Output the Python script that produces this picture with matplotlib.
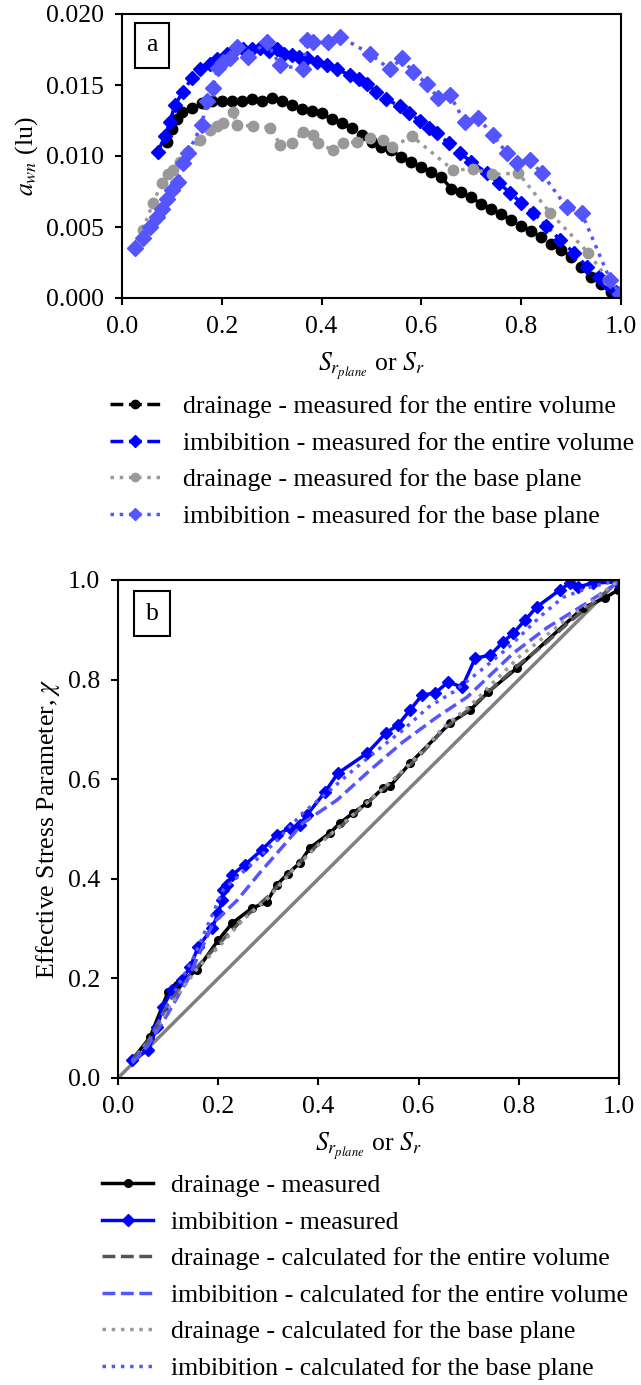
import matplotlib
matplotlib.use("Agg")
import matplotlib.pyplot as plt

plt.rcParams['font.family'] = 'serif'
plt.rcParams['font.serif'] = ['Liberation Serif', 'STIXGeneral', 'DejaVu Serif']
plt.rcParams['mathtext.fontset'] = 'stix'
plt.rcParams['font.size'] = 18.5

BLUE = '#0000ff'
LBLUE = '#5555ff'
GRAY = '#999999'
DGRAY = '#555555'

# (a) interfacial area a_wn vs saturation
dr_vol_s = [0.09, 0.10, 0.11, 0.12, 0.14, 0.16, 0.18, 0.20, 0.22, 0.24, 0.26, 0.28, 0.30,
            0.32, 0.34, 0.36, 0.38, 0.40, 0.42, 0.44, 0.46, 0.48, 0.50, 0.52, 0.54, 0.56,
            0.58, 0.60, 0.62, 0.64, 0.66, 0.68, 0.70, 0.72, 0.74, 0.76, 0.78, 0.80, 0.82,
            0.84, 0.86, 0.88, 0.90, 0.92, 0.94, 0.96, 0.98, 1.00]
dr_vol_a = [0.0110, 0.0119, 0.0126, 0.0131, 0.0134, 0.0137, 0.0139, 0.0139, 0.0139, 0.0139,
            0.0140, 0.0139, 0.0141, 0.0139, 0.0136, 0.0133, 0.0132, 0.0130, 0.0126, 0.0123,
            0.0120, 0.0115, 0.0110, 0.0106, 0.0104, 0.0099, 0.0096, 0.0092, 0.0089, 0.0085,
            0.0077, 0.0075, 0.0071, 0.0066, 0.0063, 0.0059, 0.0055, 0.0051, 0.0047, 0.0043,
            0.0038, 0.0034, 0.0029, 0.0022, 0.0015, 0.0010, 0.0004, 0.0000]

im_vol_s = [0.072, 0.086, 0.096, 0.106, 0.122, 0.14, 0.156, 0.176, 0.19, 0.21, 0.225, 0.243,
            0.26, 0.277, 0.295, 0.31, 0.325, 0.34, 0.355, 0.371, 0.39, 0.41, 0.43, 0.457,
            0.475, 0.49, 0.51, 0.53, 0.557, 0.575, 0.597, 0.615, 0.631, 0.655, 0.677, 0.70,
            0.731, 0.755, 0.778, 0.80, 0.824, 0.85, 0.878, 0.905, 0.932, 0.955, 0.972, 0.99, 1.00]
im_vol_a = [0.0103, 0.0114, 0.0124, 0.0136, 0.0145, 0.0155, 0.0161, 0.0165, 0.0168, 0.0172,
            0.0174, 0.0175, 0.0175, 0.0176, 0.0174, 0.0175, 0.0172, 0.0171, 0.0170, 0.0169,
            0.0166, 0.0164, 0.0161, 0.0157, 0.0154, 0.0151, 0.0145, 0.0140, 0.0135, 0.0130,
            0.0125, 0.0120, 0.0116, 0.0109, 0.0102, 0.0096, 0.0088, 0.0081, 0.0074, 0.0067,
            0.0060, 0.0051, 0.0041, 0.0032, 0.0022, 0.0015, 0.0010, 0.0004, 0.0002]

dr_pl_s = [0.042, 0.062, 0.08, 0.092, 0.102, 0.116, 0.132, 0.156, 0.176, 0.19, 0.203, 0.223,
           0.23, 0.263, 0.297, 0.317, 0.34, 0.363, 0.383, 0.393, 0.423, 0.443, 0.471, 0.497,
           0.523, 0.541, 0.581, 0.664, 0.704, 0.741, 0.794, 0.858, 0.934, 0.974, 1.0]
dr_pl_a = [0.0048, 0.0067, 0.0081, 0.0087, 0.0090, 0.0096, 0.0103, 0.0111, 0.0118, 0.0121,
           0.0123, 0.0131, 0.0122, 0.0121, 0.0120, 0.0108, 0.0109, 0.0117, 0.0115, 0.0109,
           0.0104, 0.0109, 0.0110, 0.0113, 0.0111, 0.0106, 0.0114, 0.0090, 0.0091, 0.0087,
           0.0088, 0.0060, 0.0032, 0.0013, 0.0003]

im_pl_s = [0.026, 0.042, 0.056, 0.07, 0.08, 0.09, 0.10, 0.112, 0.122, 0.132, 0.16, 0.17,
           0.182, 0.192, 0.202, 0.216, 0.23, 0.252, 0.29, 0.317, 0.363, 0.37, 0.383, 0.413,
           0.437, 0.497, 0.537, 0.561, 0.583, 0.611, 0.633, 0.657, 0.687, 0.713, 0.743,
           0.771, 0.791, 0.817, 0.841, 0.891, 0.921, 0.978, 0.998]
im_pl_a = [0.0035, 0.0042, 0.0050, 0.0057, 0.0063, 0.0070, 0.0076, 0.0082, 0.0095, 0.0102,
           0.0122, 0.0139, 0.0148, 0.0162, 0.0166, 0.0169, 0.0177, 0.0170, 0.0180, 0.0164,
           0.0161, 0.0182, 0.0180, 0.0180, 0.0184, 0.0172, 0.0161, 0.0169, 0.0159, 0.0151,
           0.0141, 0.0143, 0.0124, 0.0127, 0.0115, 0.0102, 0.0095, 0.0097, 0.0088, 0.0064,
           0.0060, 0.0013, 0.0003]

# (b) effective stress parameter chi vs saturation
dr_meas_s = [0.028, 0.064, 0.10, 0.118, 0.158, 0.20, 0.228, 0.267, 0.297, 0.317, 0.339, 0.363,
             0.383, 0.423, 0.443, 0.469, 0.497, 0.529, 0.543, 0.583, 0.663, 0.703, 0.739,
             0.796, 0.928, 0.972, 0.998]
dr_meas_chi = [0.036, 0.082, 0.173, 0.187, 0.217, 0.277, 0.311, 0.341, 0.353, 0.388, 0.410,
               0.432, 0.462, 0.492, 0.512, 0.532, 0.552, 0.582, 0.586, 0.632, 0.713, 0.739,
               0.775, 0.823, 0.944, 0.964, 0.980]

im_meas_s = [0.028, 0.06, 0.078, 0.09, 0.108, 0.128, 0.144, 0.16, 0.188, 0.20, 0.208, 0.21,
             0.218, 0.228, 0.253, 0.287, 0.317, 0.343, 0.363, 0.377, 0.413, 0.439, 0.497,
             0.535, 0.559, 0.583, 0.607, 0.633, 0.659, 0.687, 0.713, 0.743, 0.769, 0.789,
             0.813, 0.836, 0.882, 0.902, 0.918, 0.948, 0.996]
im_meas_chi = [0.036, 0.056, 0.102, 0.143, 0.177, 0.197, 0.223, 0.263, 0.301, 0.331, 0.357,
               0.378, 0.388, 0.408, 0.428, 0.458, 0.488, 0.502, 0.508, 0.528, 0.574, 0.612,
               0.652, 0.693, 0.709, 0.739, 0.769, 0.773, 0.795, 0.785, 0.843, 0.849, 0.876,
               0.893, 0.920, 0.946, 0.980, 0.994, 0.986, 0.994, 0.996]

dr_calc_s = [0.028, 0.064, 0.10, 0.16, 0.20, 0.25, 0.30, 0.35, 0.40, 0.45, 0.50, 0.55, 0.60,
             0.65, 0.70, 0.75, 0.80, 0.85, 0.90, 0.95, 1.0]
dr_calc_vol = [0.035, 0.080, 0.150, 0.225, 0.268, 0.320, 0.365, 0.420, 0.470, 0.510, 0.555,
               0.598, 0.645, 0.700, 0.740, 0.785, 0.830, 0.870, 0.915, 0.955, 1.0]
dr_calc_pl = [0.033, 0.078, 0.140, 0.222, 0.262, 0.318, 0.362, 0.418, 0.468, 0.512, 0.556,
              0.600, 0.648, 0.705, 0.745, 0.795, 0.845, 0.885, 0.925, 0.960, 1.0]

im_cvol_s = [0.028, 0.06, 0.10, 0.14, 0.19, 0.238, 0.283, 0.323, 0.369, 0.437, 0.503, 0.569,
             0.637, 0.697, 0.789, 0.856, 0.936, 0.996]
im_cvol_chi = [0.030, 0.065, 0.130, 0.200, 0.311, 0.357, 0.412, 0.458, 0.512, 0.558, 0.618,
               0.675, 0.725, 0.765, 0.853, 0.904, 0.954, 0.994]

im_cpl_s = [0.028, 0.06, 0.10, 0.15, 0.21, 0.261, 0.31, 0.369, 0.42, 0.469, 0.52, 0.569,
            0.62, 0.669, 0.72, 0.78, 0.842, 0.888, 0.94, 1.0]
im_cpl_chi = [0.033, 0.070, 0.150, 0.240, 0.378, 0.424, 0.470, 0.532, 0.575, 0.618, 0.660,
              0.699, 0.745, 0.775, 0.815, 0.865, 0.926, 0.965, 0.985, 1.0]

W, H = 641, 1385
fig = plt.figure(figsize=(W / 100, H / 100), dpi=100)


def px_axes(left, right, top, bottom):
    return fig.add_axes([left / W, 1 - bottom / H, (right - left) / W, (bottom - top) / H])


def style_axes(ax):
    for sp in ax.spines.values():
        sp.set_linewidth(1.5)
    ax.tick_params(direction='out', length=5, width=1.5, pad=8)
    ax.set_xlim(0, 1)
    ax.set_xticks([0, 0.2, 0.4, 0.6, 0.8, 1.0])
    ax.set_xticklabels(['0.0', '0.2', '0.4', '0.6', '0.8', '1.0'])
    ax.set_xlabel(r'$S_{r_{plane}}$ or $S_r$', labelpad=9)


ax1 = px_axes(122, 621, 14, 298)
style_axes(ax1)
h1 = []
h1 += ax1.plot(dr_vol_s, dr_vol_a, '--o', color='black', ms=7.5, lw=2.5)
h1 += ax1.plot(im_vol_s, im_vol_a, '--D', color=BLUE, ms=7.5, lw=2.5)
h1 += ax1.plot(dr_pl_s, dr_pl_a, ':o', color=GRAY, ms=7.5, lw=2.5)
h1 += ax1.plot(im_pl_s, im_pl_a, ':D', color=LBLUE, ms=8, lw=2.5)
ax1.set_ylim(0, 0.02)
ax1.set_yticks([0, 0.005, 0.010, 0.015, 0.020])
ax1.set_yticklabels(['0.000', '0.005', '0.010', '0.015', '0.020'])
ax1.set_ylabel(r'$a_{wn}$ (lu)', labelpad=4)
ax1.text(0.06, 0.89, 'a', transform=ax1.transAxes, ha='center', va='center',
         bbox=dict(boxstyle='square,pad=0.45', fc='white', ec='black', lw=1.5))

labels1 = ['drainage - measured for the entire volume',
           'imbibition - measured for the entire volume',
           'drainage - measured for the base plane',
           'imbibition - measured for the base plane']
fig.legend(h1, labels1, loc='upper left', bbox_to_anchor=(110 / W, 1 - 395 / H),
           frameon=False, borderpad=0, borderaxespad=0, handlelength=1.95,
           handletextpad=0.9, labelspacing=0.53, markerscale=0.8)

ax2 = px_axes(118, 619, 580, 1078)
style_axes(ax2)
ax2.plot([0, 1], [0, 1], color='#808080', lw=2.5)
h2 = []
h2 += ax2.plot(dr_meas_s, dr_meas_chi, '-o', color='black', ms=5.5, lw=2.5)
h2 += ax2.plot(im_meas_s, im_meas_chi, '-D', color=BLUE, ms=6, lw=2.5)
h2 += ax2.plot(dr_calc_s, dr_calc_vol, '--', color=DGRAY, lw=2.5)
h2 += ax2.plot(im_cvol_s, im_cvol_chi, '--', color=LBLUE, lw=2.5)
h2 += ax2.plot(dr_calc_s, dr_calc_pl, ':', color=GRAY, lw=2.5)
h2 += ax2.plot(im_cpl_s, im_cpl_chi, ':', color=LBLUE, lw=2.5)
ax2.set_ylim(0, 1)
ax2.set_yticks([0, 0.2, 0.4, 0.6, 0.8, 1.0])
ax2.set_yticklabels(['0.0', '0.2', '0.4', '0.6', '0.8', '1.0'])
ax2.set_ylabel(r'Effective Stress Parameter, $\chi$', labelpad=4)
ax2.text(0.068, 0.932, 'b', transform=ax2.transAxes, ha='center', va='center',
         bbox=dict(boxstyle='square,pad=0.45', fc='white', ec='black', lw=1.5))

labels2 = ['drainage - measured',
           'imbibition - measured',
           'drainage - calculated for the entire volume',
           'imbibition - calculated for the entire volume',
           'drainage - calculated for the base plane',
           'imbibition - calculated for the base plane']
fig.legend(h2, labels2, loc='upper left', bbox_to_anchor=(102 / W, 1 - 1174 / H),
           frameon=False, borderpad=0, borderaxespad=0, handlelength=2.0,
           handletextpad=0.7, labelspacing=0.53)

fig.savefig('out.png', dpi=100)
